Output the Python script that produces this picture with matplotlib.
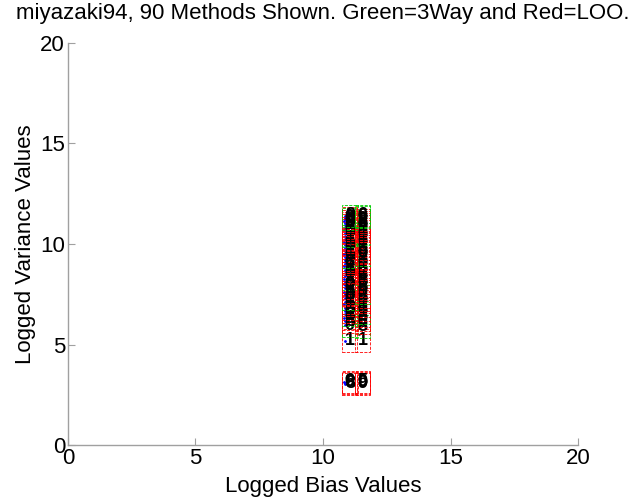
import matplotlib
matplotlib.use("Agg")
import matplotlib.pyplot as plt

plt.rcParams['font.family'] = ['Liberation Sans', 'DejaVu Sans']

# method id, logged bias, logged variance, colour of the label box
# left column (3Way runs)
ids_a = ['9', '8', '6', '1', '0', '8', '6', '9', '0', '8', '3', '6', '0', '9', '8',
         '6', '0', '5', '8', '9', '0', '6', '8', '9', '3', '0', '6', '8', '9', '0',
         '6', '8', '9', '0', '6', '8', '5', '9', '0', '8', '6', '9', '0', '8', '6']
bias_a = [10.85, 10.86, 10.84, 10.85, 10.85, 10.86, 10.84, 10.85, 10.85, 10.86,
          10.84, 10.85, 10.85, 10.86, 10.84, 10.85, 10.85, 10.86, 10.84, 10.85,
          10.85, 10.86, 10.84, 10.85, 10.85, 10.86, 10.84, 10.85, 10.85, 10.86,
          10.84, 10.85, 10.85, 10.86, 10.84, 10.85, 10.85, 10.86, 10.84, 10.85,
          10.85, 10.86, 10.84, 10.85, 10.85]
var_a = [3.10, 3.05, 3.15, 5.20, 5.95, 6.15, 6.30, 6.50, 6.65, 6.80,
         7.00, 7.10, 7.30, 7.45, 7.60, 7.80, 7.95, 8.10, 8.25, 8.40,
         8.55, 8.70, 8.90, 9.00, 9.20, 9.35, 9.50, 9.65, 9.80, 9.95,
         10.10, 10.25, 10.40, 10.55, 10.70, 10.80, 10.95, 11.05, 11.15, 11.25,
         11.30, 11.40, 8.00, 7.50, 9.10]
box_a = ['r', 'r', 'r', 'r', 'g', 'r', 'r', 'g', 'r', 'r',
         'r', 'r', 'g', 'r', 'r', 'r', 'r', 'r', 'g', 'r',
         'r', 'r', 'r', 'r', 'r', 'g', 'r', 'r', 'r', 'r',
         'r', 'r', 'g', 'r', 'r', 'r', 'r', 'r', 'r', 'g',
         'r', 'g', 'r', 'r', 'r']

# right column (LOO runs)
ids_b = ['0', '9', '5', '1', '8', '6', '0', '8', '9', '6', '3', '0', '9', '8', '6',
         '0', '8', '9', '5', '0', '6', '9', '8', '0', '6', '8', '9', '0', '3', '6',
         '9', '8', '0', '6', '8', '9', '0', '6', '8', '9', '0', '6', '8', '9', '0']
bias_b = [11.35, 11.36, 11.34, 11.35, 11.35, 11.36, 11.34, 11.35, 11.35, 11.36,
          11.34, 11.35, 11.35, 11.36, 11.34, 11.35, 11.35, 11.36, 11.34, 11.35,
          11.35, 11.36, 11.34, 11.35, 11.35, 11.36, 11.34, 11.35, 11.35, 11.36,
          11.34, 11.35, 11.35, 11.36, 11.34, 11.35, 11.35, 11.36, 11.34, 11.35,
          11.35, 11.36, 11.34, 11.35, 11.35]
var_b = [3.10, 3.05, 3.15, 5.20, 5.90, 6.10, 6.25, 6.45, 6.60, 6.75,
         6.95, 7.15, 7.25, 7.40, 7.55, 7.75, 7.90, 8.05, 8.20, 8.35,
         8.50, 8.65, 8.85, 9.05, 9.15, 9.30, 9.45, 9.60, 9.75, 9.90,
         10.05, 10.20, 10.35, 10.50, 10.65, 10.75, 10.90, 11.00, 11.10, 11.20,
         11.35, 11.40, 8.15, 7.65, 9.55]
box_b = ['r', 'r', 'r', 'r', 'g', 'r', 'r', 'r', 'g', 'r',
         'r', 'r', 'r', 'r', 'g', 'r', 'r', 'r', 'r', 'r',
         'g', 'r', 'r', 'r', 'r', 'r', 'g', 'r', 'r', 'r',
         'r', 'r', 'r', 'g', 'r', 'r', 'r', 'r', 'r', 'r',
         'g', 'g', 'r', 'r', 'r']

ticks = [0, 5, 10, 15, 20]

fig = plt.figure(figsize=(6.34, 4.99), dpi=100)
ax = fig.add_axes([0.107, 0.108, 0.805, 0.806])

ax.plot(bias_a, var_a, '.', color='b', markersize=2, zorder=1)

for ids, xs, ys, boxes in ((ids_a, bias_a, var_a, box_a), (ids_b, bias_b, var_b, box_b)):
    for s, x, y, c in zip(ids, xs, ys, boxes):
        ec = 'red' if c == 'r' else '#00cc00'
        ax.text(x, y, s, ha='left', va='center', fontsize=13, color='black',
                fontweight='bold', zorder=2,
                bbox=dict(boxstyle='square,pad=0.15', fc='none', ec=ec,
                          ls='--', lw=0.6))

ax.set_xlim(0, 20)
ax.set_ylim(0, 20)
ax.set_xticks(ticks)
ax.set_yticks(ticks)
ax.tick_params(direction='in', length=5, width=0.8, color='#a0a0a0',
               labelsize=16, pad=2)
for side in ('top', 'right'):
    ax.spines[side].set_visible(False)
for side in ('left', 'bottom'):
    ax.spines[side].set_color('#a0a0a0')
    ax.spines[side].set_linewidth(1.0)

ax.set_xlabel('Logged Bias Values', fontsize=16, labelpad=5)
ax.set_ylabel('Logged Variance Values', fontsize=16, labelpad=3)
ax.set_title('miyazaki94, 90 Methods Shown. Green=3Way and Red=LOO.',
             fontsize=16, pad=17)

fig.savefig('out.png', dpi=100)
